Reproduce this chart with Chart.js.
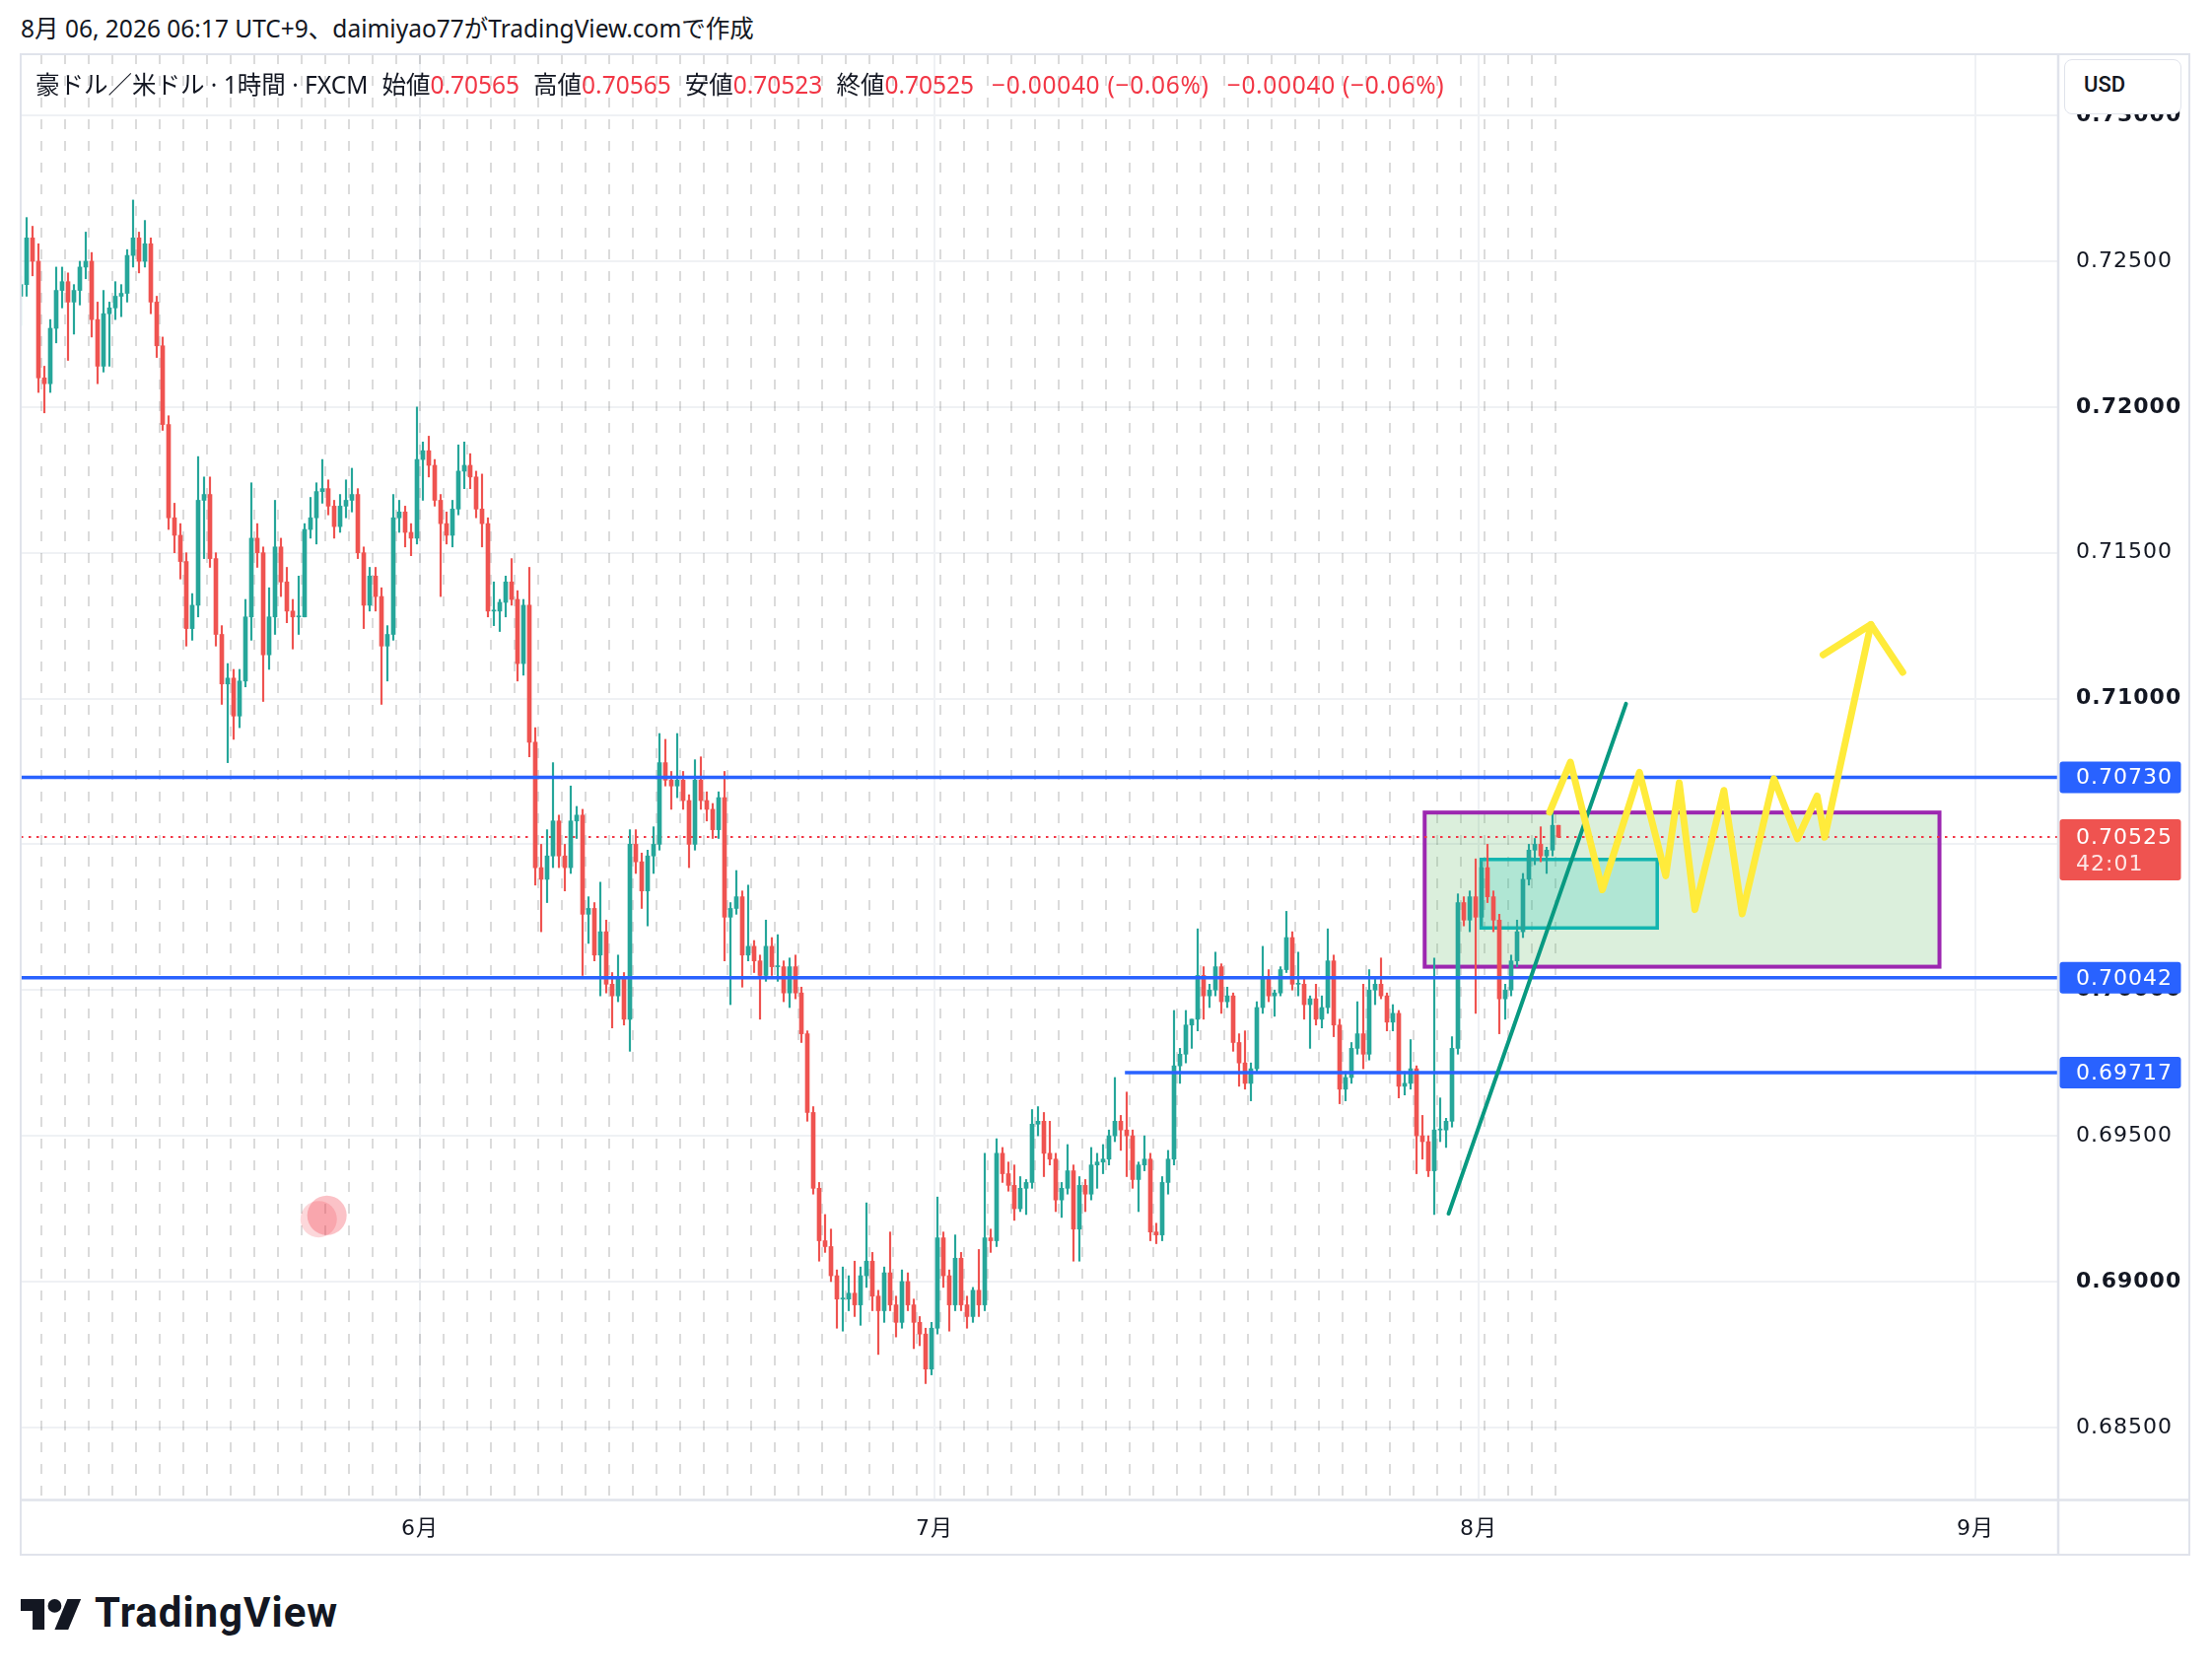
<!DOCTYPE html>
<html lang="ja">
<head>
<meta charset="utf-8">
<title>豪ドル／米ドル 1時間</title>
<script src="https://cdn.jsdelivr.net/npm/chart.js@4.4.1/dist/chart.umd.min.js"></script>
<style>
  html, body { margin: 0; padding: 0; background: #ffffff; }
  body { width: 2244px; height: 1698px; position: relative; overflow: hidden;
         font-family: "Noto Sans", "Noto Sans CJK JP", sans-serif; color: #131722; }
  #title { position: absolute; left: 21px; top: 13px; font-size: 24.5px; line-height: 32px; white-space: nowrap; }
  #wrap { position: absolute; left: 20px; top: 54px; width: 2202px; height: 1524px; }
  #chart { position: absolute; left: 0; top: 0; }
  #legend { position: absolute; left: 16px; top: 15px; font-size: 24.5px; line-height: 34px; white-space: nowrap; }
  #legend .v { color: #f23645; }
  #legend .g { margin-left: 14px; }
  #legend .chg { letter-spacing: 0.7px; margin-left: 18px; }
  #usd { position: absolute; left: 2074px; top: 6px; width: 119px; height: 56px; box-sizing: border-box;
         border: 1.5px solid #e0e3eb; border-radius: 8px; background: #ffffff;
         font-family: Roboto, "Noto Sans", sans-serif; font-weight: 500; font-size: 22px; line-height: 50px; padding-left: 19px; }
  #logo { position: absolute; left: 21px; top: 1622px; }
  #brand { position: absolute; left: 96px; top: 1609px; font-family: Roboto, "Noto Sans", sans-serif;
           font-weight: 700; font-size: 42px; line-height: 54px; letter-spacing: 1px; color: #131722; }
</style>
</head>
<body>
<div id="title">8月 06, 2026 06:17 UTC+9、daimiyao77がTradingView.comで作成</div>
<div id="wrap">
  <canvas id="chart" width="2202" height="1524"></canvas>
  <div id="legend">豪ドル／米ドル · 1時間 · FXCM<span class="g">始値<span class="v">0.70565</span></span><span class="g">高値<span class="v">0.70565</span></span><span class="g">安値<span class="v">0.70523</span></span><span class="g">終値<span class="v">0.70525</span></span><span class="chg v">−0.00040 (−0.06%)</span><span class="chg v">−0.00040 (−0.06%)</span></div>
  <div id="usd">USD</div>
</div>
<svg id="logo" width="62" height="31" viewBox="0 4 36 18"><path d="M14 22H7V11H0V4h14v18zM28 22h-8l7.5-18h8L28 22z" fill="#131722"/><circle cx="20" cy="8" r="4" fill="#131722"/></svg>
<div id="brand">TradingView</div>

<script>
// 6-hour candles, prices in pips (x 0.0001)
// day index 0 = session of Fri 8 May, 16 = Mon 1 Jun, 61 = Mon 3 Aug
const BARS_PER_DAY = 4;
const FIRST_DAY = -1;
const firstOpen = 7238;

const closes = [
  7242, 7258, 7250, 7210,
  7208, 7227, 7240, 7243,
  7236, 7240, 7248, 7250,
  7230, 7214, 7232, 7234,
  7238, 7239, 7252, 7258,
  7250, 7256, 7236, 7221,
  7194, 7162, 7156, 7147,
  7124, 7132, 7168, 7170,
  7148, 7122, 7105, 7107,
  7094, 7106, 7128, 7155,
  7150, 7115, 7128, 7152,
  7140, 7130, 7128, 7128,
  7158, 7162, 7171, 7172,
  7166, 7159, 7166, 7168,
  7170, 7150, 7132, 7142,
  7135, 7118, 7122, 7162,
  7164, 7157, 7155, 7182,
  7185, 7180, 7168, 7160,
  7156, 7165, 7178, 7180,
  7176, 7165, 7160, 7130,
  7130, 7133, 7140, 7134,
  7112, 7132, 7085, 7042,
  7038, 7046, 7058, 7046,
  7042, 7058, 7060, 7026,
  7028, 7012, 7020, 7002,
  6998, 7004, 6990, 7050,
  7044, 7034, 7046, 7050,
  7078, 7072, 7070, 7072,
  7065, 7050, 7072, 7065,
  7062, 7055, 7066, 7025,
  7028, 7032, 7012, 7015,
  7010, 7005, 7015, 7008,
  7008, 6999, 7008, 6999,
  6985, 6958, 6932, 6914,
  6912, 6902, 6894, 6894,
  6896, 6892, 6902, 6907,
  6895, 6890, 6903, 6892,
  6886, 6900, 6892, 6886,
  6882, 6870, 6884, 6915,
  6902, 6892, 6908, 6892,
  6888, 6897, 6892, 6915,
  6914, 6944, 6937, 6933,
  6925, 6932, 6934, 6954,
  6955, 6944, 6942, 6928,
  6932, 6938, 6918, 6933,
  6930, 6940, 6941, 6942,
  6950, 6955, 6952, 6950,
  6935, 6940, 6942, 6917,
  6916, 6934, 6942, 6974,
  6978, 6988, 6990, 7005,
  6998, 7000, 7008, 6996,
  6998, 6982, 6975, 6968,
  6973, 6994, 7004, 6998,
  6999, 7007, 7018, 7002,
  7002, 6995, 6997, 6990,
  6994, 7010, 6988, 6966,
  6970, 6980, 6985, 6978,
  7000, 7002, 6998, 6989,
  6992, 6967, 6968, 6973,
  6950, 6948, 6938, 6952,
  6952, 6955, 6980, 7030,
  7024, 7032, 7025, 7042,
  7032, 7024, 6997, 7000,
  7010, 7020, 7038, 7048,
  7050, 7046, 7048, 7056.5,
  7052.5
];

const highs = [
  7245, 7265, 7262, 7256,
  7214, 7230, 7248, 7248,
  7246, 7242, 7250, 7260,
  7253, 7236, 7240, 7236,
  7243, 7242, 7254, 7271,
  7260, 7264, 7258, 7238,
  7224, 7197, 7167, 7160,
  7150, 7136, 7183, 7176,
  7176, 7150, 7125, 7112,
  7110, 7110, 7134, 7174,
  7160, 7152, 7138, 7168,
  7155, 7145, 7134, 7142,
  7160, 7169, 7174, 7182,
  7175, 7168, 7170, 7175,
  7179, 7172, 7152, 7145,
  7145, 7138, 7125, 7170,
  7168, 7166, 7160, 7200,
  7188, 7190, 7182, 7170,
  7164, 7168, 7187, 7188,
  7184, 7178, 7177, 7162,
  7140, 7134, 7142, 7148,
  7137, 7134, 7145, 7090,
  7050, 7055, 7078, 7060,
  7050, 7070, 7063, 7062,
  7032, 7030, 7037, 7024,
  7006, 7012, 7006, 7055,
  7055, 7047, 7048, 7056,
  7088, 7086, 7075, 7088,
  7075, 7067, 7079, 7080,
  7068, 7064, 7068, 7075,
  7030, 7041, 7034, 7036,
  7017, 7012, 7024, 7018,
  7019, 7010, 7011, 7012,
  7001, 6986, 6960, 6934,
  6923, 6918, 6904, 6905,
  6902, 6907, 6905, 6927,
  6910, 6897, 6905, 6917,
  6895, 6904, 6903, 6894,
  6888, 6884, 6886, 6929,
  6917, 6904, 6916, 6910,
  6895, 6898, 6911, 6944,
  6918, 6949, 6946, 6941,
  6940, 6936, 6935, 6959,
  6960, 6958, 6955, 6944,
  6934, 6947, 6940, 6936,
  6935, 6946, 6944, 6947,
  6952, 6970, 6957, 6965,
  6952, 6941, 6950, 6944,
  6920, 6936, 6945, 6993,
  6980, 6993, 6990, 7021,
  7008, 7002, 7013, 7009,
  7001, 6999, 6985, 6986,
  6975, 6996, 7015, 7007,
  7000, 7008, 7027, 7020,
  7013, 7004, 6998, 7002,
  6998, 7021, 7012, 6990,
  6972, 6982, 6996, 7002,
  7007, 7004, 7011, 6999,
  6995, 6993, 6972, 6983,
  6974, 6957, 6950, 7011,
  6963, 6956, 6984, 7033,
  7032, 7034, 7045, 7044,
  7050, 7034, 7026, 7002,
  7012, 7024, 7040, 7050,
  7052, 7056, 7049, 7065,
  7056.5
];

const lows = [
  7228, 7238, 7245, 7205,
  7198, 7205, 7222, 7234,
  7216, 7225, 7235, 7244,
  7224, 7208, 7212, 7214,
  7230, 7231, 7236, 7248,
  7246, 7248, 7232, 7217,
  7192, 7158, 7150, 7141,
  7118, 7120, 7128, 7148,
  7145, 7118, 7098, 7078,
  7086, 7090, 7104, 7120,
  7145, 7099, 7110, 7122,
  7135, 7126, 7117, 7122,
  7128, 7155, 7153, 7167,
  7163, 7155, 7157, 7162,
  7164, 7148, 7124, 7130,
  7130, 7098, 7106, 7120,
  7157, 7152, 7149, 7153,
  7168, 7176, 7166, 7135,
  7153, 7152, 7163, 7172,
  7172, 7162, 7152, 7128,
  7125, 7123, 7128, 7132,
  7106, 7108, 7080, 7036,
  7020, 7030, 7042, 7042,
  7034, 7040, 7052, 7005,
  7016, 7010, 6998, 6999,
  6987, 6996, 6988, 6979,
  7040, 7028, 7022, 7040,
  7048, 7070, 7062, 7066,
  7062, 7042, 7048, 7062,
  7058, 7052, 7052, 7010,
  6995, 7026, 7001, 7010,
  7006, 6990, 7003, 7005,
  7003, 6996, 6994, 6997,
  6982, 6955, 6930, 6907,
  6910, 6900, 6884, 6883,
  6890, 6888, 6885, 6898,
  6890, 6875, 6886, 6890,
  6881, 6884, 6890, 6877,
  6878, 6865, 6868, 6882,
  6898, 6883, 6890, 6890,
  6884, 6886, 6888, 6890,
  6910, 6912, 6934, 6931,
  6921, 6924, 6923, 6932,
  6950, 6936, 6940, 6924,
  6922, 6930, 6907, 6907,
  6924, 6928, 6932, 6937,
  6940, 6948, 6945, 6936,
  6932, 6924, 6938, 6914,
  6913, 6914, 6930, 6940,
  6968, 6975, 6980, 6986,
  6990, 6994, 6998, 6992,
  6994, 6979, 6967, 6966,
  6962, 6972, 6992, 6996,
  6991, 6998, 7006, 7000,
  6998, 6990, 6980, 6988,
  6987, 6992, 6984, 6961,
  6962, 6968, 6978, 6973,
  6976, 6995, 6997, 6986,
  6986, 6963, 6964, 6966,
  6937, 6942, 6936, 6923,
  6948, 6946, 6953, 6978,
  7022, 7020, 6992, 7022,
  7030, 7020, 6985, 6990,
  6998, 7008, 7018, 7036,
  7043, 7044, 7040, 7046,
  7052.3
];

// axes
const monthTicks = [16, 37.75, 60.75, 81.75];
const monthLabels = ['6月', '7月', '8月', '9月'];
const priceTicks = [0.685, 0.690, 0.695, 0.700, 0.705, 0.710, 0.715, 0.720, 0.725, 0.730];
const lastSession = 64;

// drawings on the chart
const levels = [
    {price: 0.70730, from: null},
    {price: 0.70042, from: null},
    {price: 0.69717, from: 45.8},
];
const lastPrice = 0.70525;
const countdown = '42:01';
const rangeBox = {x0: 58.47, x1: 80.23, top: 0.70609, bottom: 0.70080};
const entryBox = {x0: 60.86, x1: 68.3, top: 0.70448, bottom: 0.70213};
const trendLine = [[59.48, 0.69233], [66.98, 0.70982]];
const forecastPath = [
    [63.75, 0.70610], [64.63, 0.70782], [65.98, 0.70344], [67.55, 0.70747],
    [68.66, 0.70392], [69.23, 0.70711], [69.89, 0.70276], [71.12, 0.70685],
    [71.89, 0.70261], [73.23, 0.70725], [74.23, 0.70519], [75.06, 0.70666],
    [75.38, 0.70524], [77.33, 0.71254]
];
const arrowHead = [[75.31, 0.71150], [77.33, 0.71254], [78.68, 0.71090]];
const markerDots = [[11.72, 0.69214, 18.5, 'rgba(242,54,69,0.20)'], [12.07, 0.69227, 20, 'rgba(242,54,69,0.30)']];

const UP = '#26a69a';
const DOWN = '#ef5350';
const BLUE = '#2962ff';
const GRID = '#eff1f4';
const TEXT = '#131722';
const AXIS_FONT = '"DejaVu Sans", "Noto Sans CJK JP", sans-serif';

const X_MIN = -0.875, X_MAX = 85.208;
const Y_MIN = 0.682558, Y_MAX = 0.732102;

// build candles
const n = Math.min(closes.length, highs.length, lows.length);
const wicks = [], bodies = [], colors = [];
let open = firstOpen;
for (let i = 0; i < n; i++) {
    const x = FIRST_DAY + (i + 0.5) / BARS_PER_DAY;
    const c = closes[i];
    const h = Math.max(highs[i], open, c);
    const l = Math.min(lows[i], open, c);
    wicks.push({x: x, y: [l / 10000, h / 10000]});
    bodies.push({x: x, y: [Math.min(open, c) / 10000, Math.max(open, c) / 10000]});
    colors.push(c >= open ? UP : DOWN);
    open = c;
}

function pt(chart, xv, pv) {
    return [chart.scales.x.getPixelForValue(xv), chart.scales.y.getPixelForValue(pv)];
}

function polyline(ctx, chart, points) {
    ctx.beginPath();
    points.forEach((p, i) => {
        const [px, py] = pt(chart, p[0], p[1]);
        if (i === 0) ctx.moveTo(px, py); else ctx.lineTo(px, py);
    });
    ctx.stroke();
}

function box(ctx, chart, b, fill, stroke, width) {
    const [x0, y0] = pt(chart, b.x0, b.top);
    const [x1, y1] = pt(chart, b.x1, b.bottom);
    ctx.fillStyle = fill;
    ctx.fillRect(x0, y0, x1 - x0, y1 - y0);
    ctx.strokeStyle = stroke;
    ctx.lineWidth = width;
    ctx.strokeRect(x0, y0, x1 - x0, y1 - y0);
}

const drawings = {
    id: 'drawings',
    beforeDraw(chart) {
        chart.ctx.letterSpacing = '1px';
    },
    beforeDatasetsDraw(chart) {
        const {ctx, chartArea: a, scales: {x, y}} = chart;
        ctx.save();
        ctx.beginPath();
        ctx.rect(a.left, a.top, a.right - a.left, a.bottom - a.top);
        ctx.clip();

        // session breaks
        ctx.strokeStyle = 'rgba(0,0,0,0.14)';
        ctx.lineWidth = 2;
        ctx.setLineDash([10, 12]);
        for (let d = 0; d <= lastSession; d++) {
            const px = x.getPixelForValue(d);
            ctx.beginPath();
            ctx.moveTo(px, a.top);
            ctx.lineTo(px, a.bottom);
            ctx.stroke();
        }
        ctx.setLineDash([]);

        box(ctx, chart, rangeBox, 'rgba(76,175,80,0.2)', '#9c27b0', 4);
        box(ctx, chart, entryBox, 'rgba(0,188,180,0.2)', '#12b5b0', 3.5);

        // last price dotted line
        const ly = y.getPixelForValue(lastPrice);
        ctx.strokeStyle = '#f23645';
        ctx.lineWidth = 2;
        ctx.setLineDash([2.5, 5.5]);
        ctx.beginPath();
        ctx.moveTo(a.left, ly);
        ctx.lineTo(a.right, ly);
        ctx.stroke();
        ctx.restore();
    },
    afterDatasetsDraw(chart) {
        const {ctx, chartArea: a, scales: {x, y}} = chart;
        ctx.save();
        ctx.beginPath();
        ctx.rect(a.left, a.top, a.right - a.left, a.bottom - a.top);
        ctx.clip();

        ctx.strokeStyle = BLUE;
        ctx.lineWidth = 3.5;
        for (const lv of levels) {
            const py = y.getPixelForValue(lv.price);
            const x0 = lv.from === null ? a.left : x.getPixelForValue(lv.from);
            ctx.beginPath();
            ctx.moveTo(x0, py);
            ctx.lineTo(a.right, py);
            ctx.stroke();
        }

        ctx.lineCap = 'round';
        ctx.strokeStyle = '#089981';
        ctx.lineWidth = 4;
        polyline(ctx, chart, trendLine);

        ctx.lineJoin = 'round';
        ctx.strokeStyle = '#ffeb3b';
        ctx.lineWidth = 7;
        polyline(ctx, chart, forecastPath);
        polyline(ctx, chart, arrowHead);

        for (const m of markerDots) {
            const [px, py] = pt(chart, m[0], m[1]);
            ctx.fillStyle = m[3];
            ctx.beginPath();
            ctx.arc(px, py, m[2], 0, Math.PI * 2);
            ctx.fill();
        }
        ctx.restore();
    },
    afterDraw(chart) {
        const {ctx, chartArea: a, scales: {y}, width, height} = chart;
        ctx.save();
        // frame
        ctx.strokeStyle = '#e0e3eb';
        ctx.lineWidth = 2;
        ctx.strokeRect(1, 1, width - 2, height - 2);
        ctx.lineWidth = 2.5;
        ctx.beginPath();
        ctx.moveTo(a.right + 1, 0);
        ctx.lineTo(a.right + 1, height);
        ctx.moveTo(0, a.bottom + 1.5);
        ctx.lineTo(width, a.bottom + 1.5);
        ctx.stroke();

        // price labels on the axis
        const bx = a.right + 2.5, bw = 123, tx = a.right + 19;
        ctx.font = '22px ' + AXIS_FONT;
        ctx.letterSpacing = '1px';
        ctx.textAlign = 'left';
        ctx.textBaseline = 'middle';
        for (const lv of levels) {
            const py = y.getPixelForValue(lv.price);
            ctx.fillStyle = BLUE;
            ctx.beginPath();
            ctx.roundRect(bx, py - 16, bw, 32, 3);
            ctx.fill();
            ctx.fillStyle = '#ffffff';
            ctx.fillText(lv.price.toFixed(5), tx, py + 1);
        }
        const ly = y.getPixelForValue(lastPrice);
        ctx.fillStyle = DOWN;
        ctx.beginPath();
        ctx.roundRect(bx, ly - 18, bw, 62, 3);
        ctx.fill();
        ctx.fillStyle = '#ffffff';
        ctx.fillText(lastPrice.toFixed(5), tx, ly + 1);
        ctx.fillStyle = 'rgba(255,255,255,0.85)';
        ctx.fillText(countdown, tx, ly + 28);
        ctx.restore();
    }
};

new Chart(document.getElementById('chart'), {
    type: 'bar',
    data: {
        datasets: [
            {data: wicks, backgroundColor: colors, barThickness: 1.5, grouped: false, minBarLength: 1, order: 2},
            {data: bodies, backgroundColor: colors, barThickness: 4, grouped: false, minBarLength: 1, order: 1}
        ]
    },
    options: {
        responsive: false,
        animation: false,
        devicePixelRatio: 1,
        layout: {padding: {left: 1, top: 1, right: 0, bottom: 0}},
        plugins: {legend: {display: false}, tooltip: {enabled: false}},
        scales: {
            x: {
                type: 'linear',
                min: X_MIN,
                max: X_MAX,
                offset: false,
                afterBuildTicks: (s) => { s.ticks = monthTicks.map(v => ({value: v})); },
                afterFit: (s) => { s.height = 58; s.paddingLeft = 0; s.paddingRight = 0; },
                ticks: {
                    callback: (v, i) => monthLabels[i],
                    autoSkip: false,
                    maxRotation: 0,
                    padding: 18,
                    color: TEXT,
                    font: {family: AXIS_FONT, size: 22}
                },
                grid: {color: GRID, lineWidth: 2, drawTicks: false, offset: false},
                border: {display: false}
            },
            y: {
                position: 'right',
                min: Y_MIN,
                max: Y_MAX,
                afterBuildTicks: (s) => { s.ticks = priceTicks.map(v => ({value: v})); },
                afterFit: (s) => { s.width = 135; s.paddingTop = 0; s.paddingBottom = 0; },
                ticks: {
                    callback: (v) => v.toFixed(5),
                    autoSkip: false,
                    crossAlign: 'near',
                    padding: 19,
                    color: TEXT,
                    font: (c) => ({
                        family: AXIS_FONT,
                        size: 22,
                        weight: c.tick && Math.round(c.tick.value * 1000) % 10 === 0 ? 'bold' : 'normal'
                    })
                },
                grid: {color: GRID, lineWidth: 2, drawTicks: false},
                border: {display: false}
            }
        }
    },
    plugins: [drawings]
});
</script>
</body>
</html>
